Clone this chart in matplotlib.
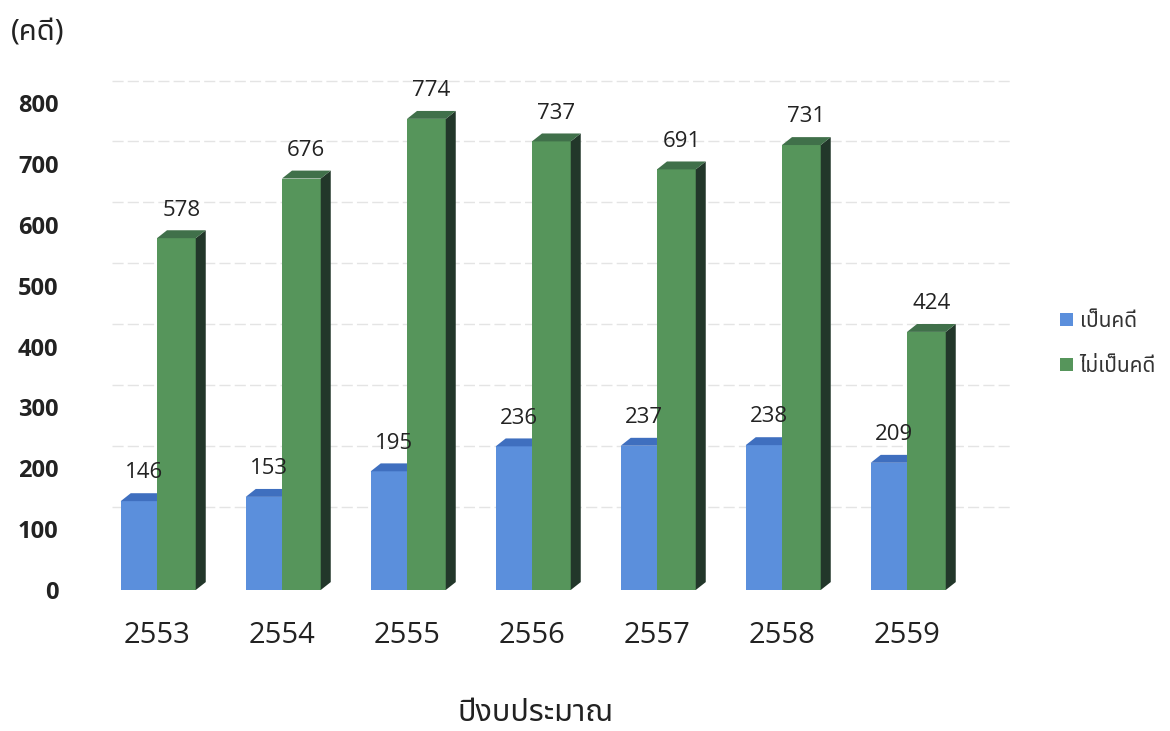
import numpy as np
import matplotlib
matplotlib.use('Agg')
from matplotlib import pyplot as plt
from matplotlib import font_manager
from matplotlib.ft2font import FT2Font
from matplotlib.patches import Polygon, Patch

YEARS = ['2553', '2554', '2555', '2556', '2557', '2558', '2559']
CASE = [146, 153, 195, 236, 237, 238, 209]
NOT_CASE = [578, 676, 774, 737, 691, 731, 424]
Y_TICKS = [0, 100, 200, 300, 400, 500, 600, 700, 800]
SERIES_NAMES = ['เป็นคดี', 'ไม่เป็นคดี']
Y_UNIT = '(คดี)'
X_TITLE = 'ปีงบประมาณ'

BLUE = ('#5b8fdc', '#2f5a9c', '#3f6fbf')   # front, side, top
GREEN = ('#56955b', '#22372a', '#40704a')


def find_thai_font():
    names = []
    for f in font_manager.fontManager.ttflist:
        try:
            cmap = FT2Font(f.fname).get_charmap()
        except Exception:
            continue
        if 0x0E04 in cmap and 0x0E35 in cmap:
            names.append(f.name)
    for pref in ['Noto Sans Thai', 'Noto Sans Thai UI', 'Loma', 'Garuda', 'Tlwg Typist', 'Norasi']:
        if pref in names:
            return pref
    if names:
        return names[0]
    return 'DejaVu Sans'


THAI = [find_thai_font(), 'DejaVu Sans']
DIGITS = ['Open Sans', 'DejaVu Sans']


def bar3d(ax, x0, w, h, colors, dx, dy):
    front, side, top = colors
    ax.bar(x0, h, width=w, align='edge', color=front, linewidth=0, zorder=3)
    ax.add_patch(Polygon([(x0 + w, 0), (x0 + w + dx, dy), (x0 + w + dx, h + dy), (x0 + w, h)],
                         closed=True, facecolor=side, edgecolor='none', zorder=3))
    ax.add_patch(Polygon([(x0, h), (x0 + dx, h + dy), (x0 + w + dx, h + dy), (x0 + w, h)],
                         closed=True, facecolor=top, edgecolor='none', zorder=3))


fig = plt.figure(figsize=(11.7, 7.31), dpi=100, facecolor='w')
ax = fig.add_axes([94.5 / 1170, 141 / 731, 875 / 1170, 517.4 / 731])
ax.set_xlim(-0.5, 6.5)
ax.set_ylim(0, 850)
for s in ax.spines.values():
    s.set_visible(False)

dx, dy = 0.08, 13
w_blue, w_green = 0.29, 0.31
x = np.arange(len(YEARS))

# back wall gridlines
for v in Y_TICKS[1:]:
    ax.plot([-0.36, 6.85], [v + 37, v + 37], color='#e4e4e4', lw=1.0,
            linestyle=(0, (8, 3)), zorder=1, clip_on=False)

for i in range(len(YEARS)):
    bar3d(ax, x[i] - w_blue, w_blue, CASE[i], BLUE, dx, dy)
    bar3d(ax, x[i], w_green, NOT_CASE[i], GREEN, dx, dy)
    ax.text(x[i] - w_blue / 2 + dx / 2, CASE[i] + dy + 16, str(CASE[i]),
            ha='center', va='bottom', fontsize=16, family=DIGITS, color='#222222', zorder=4)
    ax.text(x[i] + w_green / 2 + dx / 2, NOT_CASE[i] + dy + 16, str(NOT_CASE[i]),
            ha='center', va='bottom', fontsize=16, family=DIGITS, color='#222222', zorder=4)

ax.set_yticks(Y_TICKS)
ax.set_yticklabels([str(v) for v in Y_TICKS], fontsize=17, fontweight='bold',
                   family=DIGITS, color='#222222')
ax.set_xticks(x)
ax.set_xticklabels(YEARS, fontsize=21, family=DIGITS, color='#222222')
ax.tick_params(axis='y', length=0, pad=26)
ax.tick_params(axis='x', length=0, pad=22)

fig.text(11 / 1170, 1 - 33 / 731, Y_UNIT, fontsize=21, family=THAI, color='#222222',
         ha='left', va='center')
fig.text(536 / 1170, 1 - 713 / 731, X_TITLE, fontsize=22, family=THAI, color='#222222',
         ha='center', va='center')

handles = [Patch(facecolor=BLUE[0]), Patch(facecolor=GREEN[0])]
leg = fig.legend(handles, SERIES_NAMES, loc='center left', bbox_to_anchor=(1060 / 1170, 1 - 344 / 731),
                 frameon=False, borderpad=0, borderaxespad=0, handlelength=0.6, handleheight=0.6,
                 handletextpad=0.35, labelspacing=1.15, prop={'family': THAI, 'size': 15})
for t in leg.get_texts():
    t.set_color('#333333')

fig.savefig('out.png', dpi=100)
